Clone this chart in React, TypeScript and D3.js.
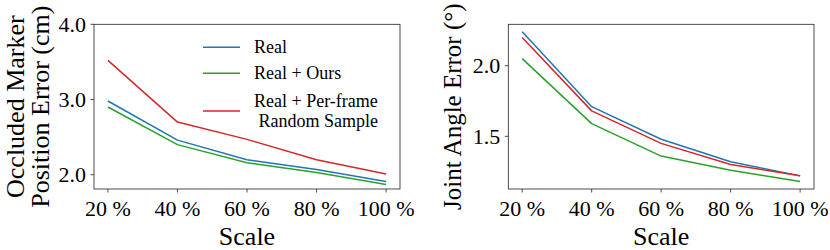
import React from "react";
import * as d3 from "d3";

const scales = [20, 40, 60, 80, 100];
const tickLabels = ["20 %", "40 %", "60 %", "80 %", "100 %"];
const seriesNames = ["Real", "Real + Ours", "Real + Per-frame\n Random Sample"];
const colors = ["#1f77b4", "#2ca02c", "#d62728"];

const markerReal = [2.98, 2.46, 2.2, 2.07, 1.91];
const markerOurs = [2.9, 2.4, 2.16, 2.03, 1.87];
const markerRandom = [3.52, 2.7, 2.47, 2.2, 2.01];

const angleReal = [2.24, 1.71, 1.479, 1.32, 1.22];
const angleOurs = [2.05, 1.59, 1.36, 1.26, 1.18];
const angleRandom = [2.2, 1.68, 1.45, 1.3, 1.22];

const markerTicks = [2.0, 3.0, 4.0];
const angleTicks = [1.5, 2.0];

const FONT = "'Liberation Serif', 'Times New Roman', serif";

type PanelProps = {
  left: number;
  right: number;
  top: number;
  bottom: number;
  series: number[][];
  yDomain: [number, number];
  yTicks: number[];
  yLabelLines: string[];
  yLabelX: number[];
  yLabelSize: number;
  legend?: boolean;
};

function Panel(p: PanelProps) {
  const x = d3.scaleLinear().domain([16, 104]).range([p.left, p.right]);
  const y = d3.scaleLinear().domain(p.yDomain).range([p.bottom, p.top]);
  const line = d3
    .line<number>()
    .x((_, i) => x(scales[i]))
    .y((d) => y(d));
  const cy = (p.top + p.bottom) / 2;
  const cx = (p.left + p.right) / 2;
  return (
    <g>
      {p.series.map((s, i) => (
        <path key={i} d={line(s) || ""} fill="none" stroke={colors[i]} strokeWidth={1.5} strokeLinejoin="round" />
      ))}
      <rect
        x={p.left}
        y={p.top}
        width={p.right - p.left}
        height={p.bottom - p.top}
        fill="none"
        stroke="#222"
        strokeWidth={0.8}
      />
      {scales.map((s, i) => (
        <g key={s}>
          <line x1={x(s)} x2={x(s)} y1={p.bottom} y2={p.bottom + 3.5} stroke="#222" strokeWidth={0.8} />
          <text x={x(s)} y={p.bottom + 27} textAnchor="middle" fontSize={22} fontFamily={FONT} fill="#000">
            {tickLabels[i]}
          </text>
        </g>
      ))}
      {p.yTicks.map((t) => (
        <g key={t}>
          <line x1={p.left - 3.5} x2={p.left} y1={y(t)} y2={y(t)} stroke="#222" strokeWidth={0.8} />
          <text x={p.left - 8} y={y(t) + 7.5} textAnchor="end" fontSize={22} fontFamily={FONT} fill="#000">
            {d3.format(".1f")(t)}
          </text>
        </g>
      ))}
      <text x={cx} y={245} textAnchor="middle" fontSize={26} fontFamily={FONT} fill="#000">
        Scale
      </text>
      {p.yLabelLines.map((l, i) => (
        <text
          key={i}
          transform={`translate(${p.yLabelX[i]},${cy}) rotate(-90)`}
          textAnchor="middle"
          fontSize={p.yLabelSize}
          fontFamily={FONT}
          fill="#000"
        >
          {l}
        </text>
      ))}
      {p.legend && (
        <g>
          {seriesNames.map((name, i) => {
            const rowY = p.top + [23, 49, 86.7][i];
            const lines = name.split("\n");
            const startY = rowY + 6 - ((lines.length - 1) * 19.7) / 2;
            return (
              <g key={i}>
                <line x1={p.left + 109} x2={p.left + 146} y1={rowY} y2={rowY} stroke={colors[i]} strokeWidth={1.5} />
                {lines.map((l, j) => (
                  <text
                    key={j}
                    x={p.left + 160}
                    y={startY + j * 19.7}
                    fontSize={18}
                    fontFamily={FONT}
                    fill="#000"
                    style={{ whiteSpace: "pre" }}
                  >
                    {l}
                  </text>
                ))}
              </g>
            );
          })}
        </g>
      )}
    </g>
  );
}

export default function App() {
  const angleAll = [...angleReal, ...angleOurs, ...angleRandom];
  const aMin = d3.min(angleAll)!;
  const aMax = d3.max(angleAll)!;
  const aPad = (aMax - aMin) * 0.05;
  return (
    <svg width={830} height={250} style={{ position: "absolute", left: 0, top: 0, background: "#fff" }}>
      <Panel
        left={94}
        right={400}
        top={24.3}
        bottom={189}
        series={[markerReal, markerOurs, markerRandom]}
        yDomain={[1.81, 4.0]}
        yTicks={markerTicks}
        yLabelLines={["Occluded Marker", "Position Error (cm)"]}
        yLabelX={[23.5, 48.5]}
        yLabelSize={26}
        legend
      />
      <Panel
        left={508.3}
        right={814}
        top={24.3}
        bottom={189}
        series={[angleReal, angleOurs, angleRandom]}
        yDomain={[aMin - aPad, aMax + aPad]}
        yTicks={angleTicks}
        yLabelLines={["Joint Angle Error (°)"]}
        yLabelX={[461]}
        yLabelSize={25}
      />
    </svg>
  );
}
